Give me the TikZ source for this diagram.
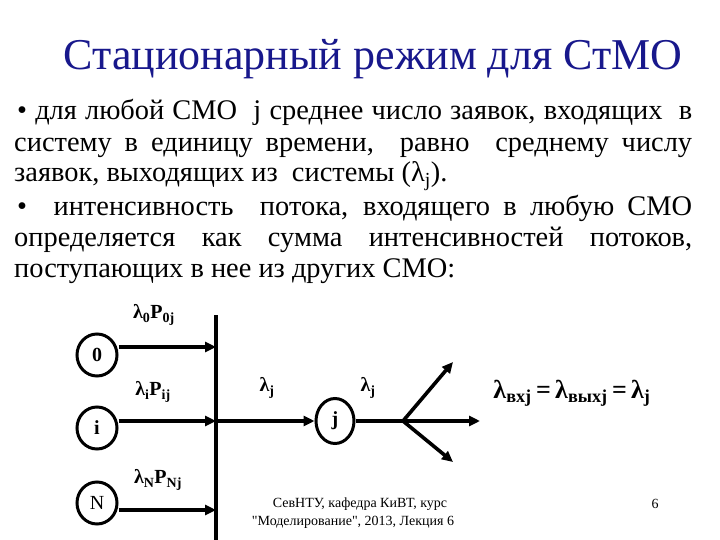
\documentclass[tikz,border=0pt]{standalone}
\usepackage{fontspec}
\setmainfont{Liberation Serif}
\usetikzlibrary{arrows.meta,shapes.geometric}
\definecolor{titleblue}{RGB}{24,24,140}
\newcommand{\strq}{\XeTeXglyph\XeTeXcharglyph"0022\relax}
\begin{document}
\begin{tikzpicture}[x=1pt,y=-1pt,
  flow/.style={line width=3.6pt},
  arr/.style={line width=3.6pt,-{Triangle[length=11pt,width=10pt]}},
  src/.style={draw,line width=3pt,ellipse,minimum width=40pt,minimum height=42pt,inner sep=0pt,font=\fontsize{20}{22}\selectfont\bfseries},
  lbl/.style={font=\fontsize{20}{22}\selectfont\bfseries,inner sep=0pt},
  body/.style={anchor=base west,inner sep=0pt,font=\fontsize{28.4}{32}\selectfont},
  foot/.style={inner sep=0pt,font=\fontsize{14}{16}\selectfont}]
\useasboundingbox[fill=white] (0,0) rectangle (720,540);
\node[anchor=base,inner sep=0pt,font=\fontsize{44}{50}\selectfont,text=titleblue] (title) at (373,70) {Стационарный режим для СтМО};
\node[body] (b1) at (17,120) {\makebox[675pt][s]{• для любой СМО\ \ j среднее число заявок, входящих\ \ в}};
\node[body] (b2) at (14,152) {\makebox[678pt][s]{систему в единицу времени,\ \ равно\ \ среднему числу}};
\node[body] (b3) at (14,182) {заявок, выходящих из\ \ системы (λ\textsubscript{j}).};
\node[body] (b4) at (17,215) {\makebox[675pt][s]{•\ \ интенсивность\ \ потока, входящего в любую СМО}};
\node[body] (b5) at (14,247) {\makebox[678pt][s]{определяется\ \ как\ \ сумма\ \ интенсивностей\ \ потоков,}};
\node[body] (b6) at (14,277) {поступающих в нее из других СМО:};
% diagram
\coordinate (vtop) at (216,315);
\coordinate (vbot) at (216,540);
\draw[flow] (vtop) -- (vbot);
\node[src] (n0) at (97,355) {0};
\node[src] (ni) at (97,428) {i};
\node[src,font=\fontsize{20}{22}\selectfont] (nN) at (97,503) {N};
\node[src,minimum width=38pt,minimum height=45pt] (j) at (335,421) {j};
\coordinate (h0) at (216,347);
\coordinate (hi) at (216,421);
\coordinate (hN) at (216,510);
\draw[arr] (n0.east |- h0) -- (h0);
\draw[arr] (ni.east |- hi) -- (hi);
\draw[arr] (nN.east |- hN) -- (hN);
\draw[arr] (hi) -- (j.west);
\coordinate (fork) at (403,421);
\coordinate (o1) at (453,362);
\coordinate (o2) at (480,421);
\coordinate (o3) at (453,462);
\draw[flow] (j.east) -- (fork);
\draw[arr] (fork) -- (o1);
\draw[arr] (fork) -- (o2);
\draw[arr] (fork) -- (o3);
\node[lbl] (l0) at (154,315) {λ\textsubscript{0}P\textsubscript{0j}};
\node[lbl] (li) at (153,392) {λ\textsubscript{i}P\textsubscript{ij}};
\node[lbl] (lN) at (158,480) {λ\textsubscript{N}P\textsubscript{Nj}};
\node[lbl] (lj1) at (267,388) {λ\textsubscript{j}};
\node[lbl] (lj2) at (368,388) {λ\textsubscript{j}};
\node[inner sep=0pt,font=\fontsize{26}{30}\selectfont\bfseries] (eq) at (572,393) {λ\textsubscript{вхj}\,=\,λ\textsubscript{выхj}\,=\,λ\textsubscript{j}};
\node[foot] (f1) at (360,504) {СевНТУ, кафедра КиВТ, курс};
\node[foot] (f2) at (353,522) {\strq Моделирование\strq, 2013, Лекция 6};
\node[foot] (pg) at (655,504) {6};
\end{tikzpicture}
\end{document}
